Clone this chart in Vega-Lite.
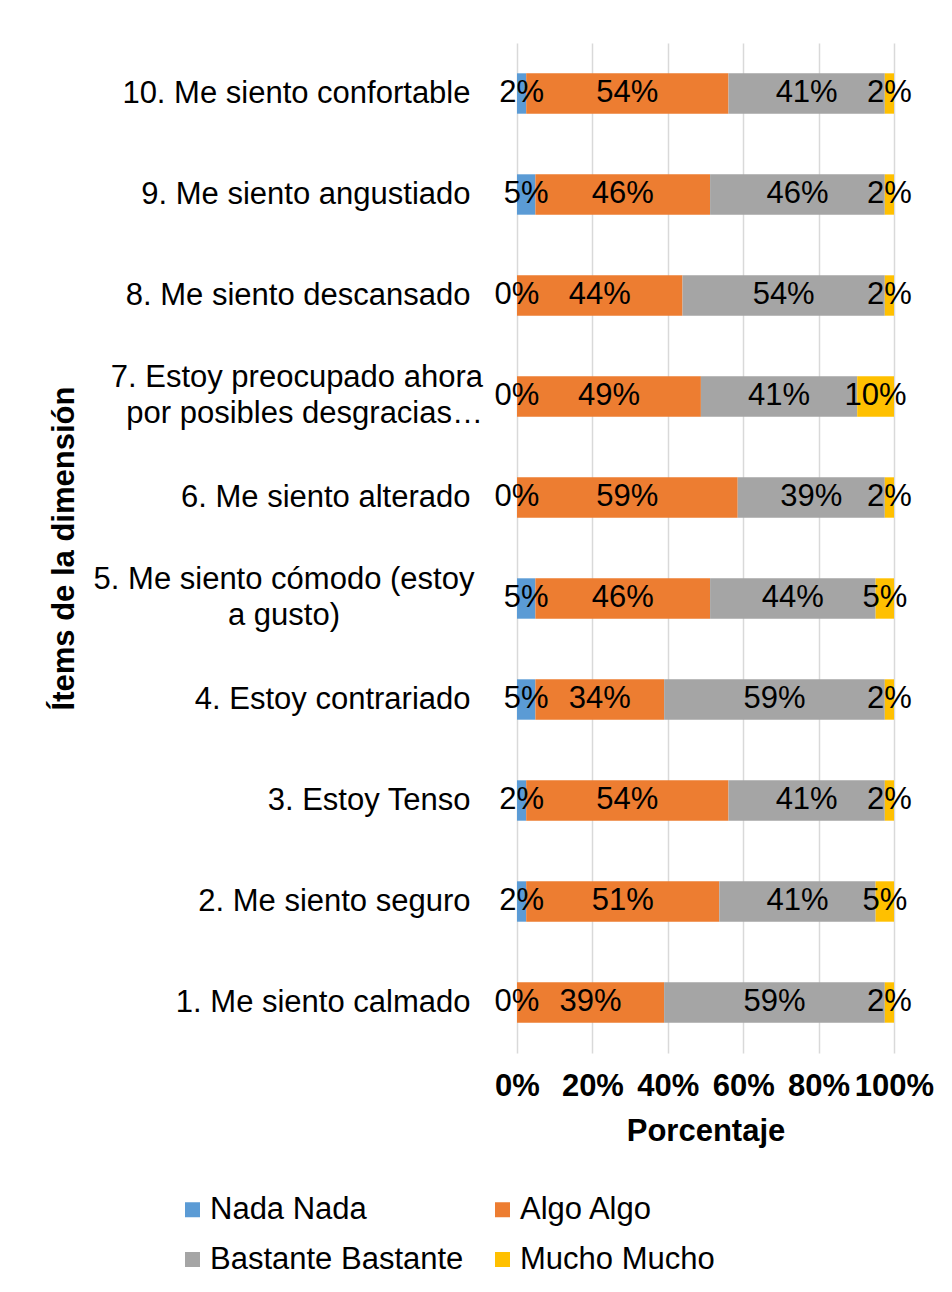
{
  "$schema": "https://vega.github.io/schema/vega-lite/v6.json",
  "width": 377,
  "height": 1010,
  "autosize": "none",
  "padding": {"left": 517, "top": 43, "right": 58, "bottom": 239},
  "background": "white",
  "config": {
    "font": "Liberation Sans",
    "view": {"stroke": null}
  },
  "data": {
    "values": [
      {"item": "10. Me siento confortable", "k": 1, "cat": "Nada Nada", "value": 0.0244},
      {"item": "10. Me siento confortable", "k": 2, "cat": "Algo Algo", "value": 0.5366},
      {"item": "10. Me siento confortable", "k": 3, "cat": "Bastante  Bastante", "value": 0.4146},
      {"item": "10. Me siento confortable", "k": 4, "cat": "Mucho Mucho", "value": 0.0244},
      {"item": "9. Me siento angustiado", "k": 1, "cat": "Nada Nada", "value": 0.0488},
      {"item": "9. Me siento angustiado", "k": 2, "cat": "Algo Algo", "value": 0.4634},
      {"item": "9. Me siento angustiado", "k": 3, "cat": "Bastante  Bastante", "value": 0.4634},
      {"item": "9. Me siento angustiado", "k": 4, "cat": "Mucho Mucho", "value": 0.0244},
      {"item": "8. Me siento descansado", "k": 1, "cat": "Nada Nada", "value": 0},
      {"item": "8. Me siento descansado", "k": 2, "cat": "Algo Algo", "value": 0.4390},
      {"item": "8. Me siento descansado", "k": 3, "cat": "Bastante  Bastante", "value": 0.5366},
      {"item": "8. Me siento descansado", "k": 4, "cat": "Mucho Mucho", "value": 0.0244},
      {"item": "7. Estoy preocupado ahora por posibles desgracias…", "k": 1, "cat": "Nada Nada", "value": 0},
      {"item": "7. Estoy preocupado ahora por posibles desgracias…", "k": 2, "cat": "Algo Algo", "value": 0.4878},
      {"item": "7. Estoy preocupado ahora por posibles desgracias…", "k": 3, "cat": "Bastante  Bastante", "value": 0.4146},
      {"item": "7. Estoy preocupado ahora por posibles desgracias…", "k": 4, "cat": "Mucho Mucho", "value": 0.0976},
      {"item": "6. Me siento alterado", "k": 1, "cat": "Nada Nada", "value": 0},
      {"item": "6. Me siento alterado", "k": 2, "cat": "Algo Algo", "value": 0.5854},
      {"item": "6. Me siento alterado", "k": 3, "cat": "Bastante  Bastante", "value": 0.3902},
      {"item": "6. Me siento alterado", "k": 4, "cat": "Mucho Mucho", "value": 0.0244},
      {"item": "5. Me siento cómodo (estoy a gusto)", "k": 1, "cat": "Nada Nada", "value": 0.0488},
      {"item": "5. Me siento cómodo (estoy a gusto)", "k": 2, "cat": "Algo Algo", "value": 0.4634},
      {"item": "5. Me siento cómodo (estoy a gusto)", "k": 3, "cat": "Bastante  Bastante", "value": 0.4390},
      {"item": "5. Me siento cómodo (estoy a gusto)", "k": 4, "cat": "Mucho Mucho", "value": 0.0488},
      {"item": "4. Estoy contrariado", "k": 1, "cat": "Nada Nada", "value": 0.0488},
      {"item": "4. Estoy contrariado", "k": 2, "cat": "Algo Algo", "value": 0.3415},
      {"item": "4. Estoy contrariado", "k": 3, "cat": "Bastante  Bastante", "value": 0.5854},
      {"item": "4. Estoy contrariado", "k": 4, "cat": "Mucho Mucho", "value": 0.0244},
      {"item": "3. Estoy Tenso", "k": 1, "cat": "Nada Nada", "value": 0.0244},
      {"item": "3. Estoy Tenso", "k": 2, "cat": "Algo Algo", "value": 0.5366},
      {"item": "3. Estoy Tenso", "k": 3, "cat": "Bastante  Bastante", "value": 0.4146},
      {"item": "3. Estoy Tenso", "k": 4, "cat": "Mucho Mucho", "value": 0.0244},
      {"item": "2. Me siento seguro", "k": 1, "cat": "Nada Nada", "value": 0.0244},
      {"item": "2. Me siento seguro", "k": 2, "cat": "Algo Algo", "value": 0.5122},
      {"item": "2. Me siento seguro", "k": 3, "cat": "Bastante  Bastante", "value": 0.4146},
      {"item": "2. Me siento seguro", "k": 4, "cat": "Mucho Mucho", "value": 0.0488},
      {"item": "1. Me siento calmado", "k": 1, "cat": "Nada Nada", "value": 0},
      {"item": "1. Me siento calmado", "k": 2, "cat": "Algo Algo", "value": 0.3902},
      {"item": "1. Me siento calmado", "k": 3, "cat": "Bastante  Bastante", "value": 0.5854},
      {"item": "1. Me siento calmado", "k": 4, "cat": "Mucho Mucho", "value": 0.0244}
    ]
  },
  "transform": [
    {"stack": "value", "groupby": ["item"], "sort": [{"field": "k", "order": "ascending"}], "offset": "normalize", "as": ["x0", "x1"]}
  ],
  "encoding": {
    "y": {
      "field": "item",
      "type": "nominal",
      "sort": [
        "10. Me siento confortable",
        "9. Me siento angustiado",
        "8. Me siento descansado",
        "7. Estoy preocupado ahora por posibles desgracias…",
        "6. Me siento alterado",
        "5. Me siento cómodo (estoy a gusto)",
        "4. Estoy contrariado",
        "3. Estoy Tenso",
        "2. Me siento seguro",
        "1. Me siento calmado"
      ],
      "scale": {"paddingInner": 0.6, "paddingOuter": 0.3},
      "axis": {
        "title": "Ítems de la dimensión",
        "titleFontSize": 31,
        "titleFontWeight": "bold",
        "titleColor": "black",
        "titleX": -444,
        "titleBaseline": "alphabetic",
        "labelFontSize": 31,
        "labelColor": "black",
        "labelPadding": 47,
        "labelLimit": 700,
        "ticks": false,
        "domain": false,
        "grid": false,
        "labelExpr": "(datum.value === '7. Estoy preocupado ahora por posibles desgracias…' || datum.value === '5. Me siento cómodo (estoy a gusto)') ? '' : datum.label"
      }
    }
  },
  "layer": [
    {
      "mark": {"type": "bar"},
      "encoding": {
        "x": {
          "field": "x0",
          "type": "quantitative",
          "scale": {"domain": [0, 1], "nice": false, "zero": true},
          "axis": {
            "title": "Porcentaje",
            "titleFontSize": 31,
            "titleFontWeight": "bold",
            "titleColor": "black",
            "titlePadding": 15,
            "format": ".0%",
            "values": [0, 0.2, 0.4, 0.6, 0.8, 1],
            "labelFontSize": 31,
            "labelFontWeight": "bold",
            "labelColor": "black",
            "labelPadding": 18,
            "labelOverlap": false,
            "labelFlush": false,
            "ticks": false,
            "domain": false,
            "grid": true,
            "gridColor": "#d9d9d9",
            "gridWidth": 1.5
          }
        },
        "x2": {"field": "x1"},
        "color": {
          "field": "cat",
          "type": "nominal",
          "scale": {
            "domain": ["Nada Nada", "Algo Algo", "Bastante  Bastante", "Mucho Mucho"],
            "range": ["#5B9BD5", "#ED7D31", "#A5A5A5", "#FFC000"]
          },
          "legend": {
            "title": null,
            "orient": "none",
            "direction": "horizontal",
            "legendX": -340,
            "legendY": 1151,
            "columns": 2,
            "columnPadding": 15,
            "rowPadding": 18,
            "symbolType": "square",
            "symbolSize": 225,
            "symbolStrokeWidth": 0,
            "labelFontSize": 31,
            "labelColor": "black",
            "labelOffset": 2,
            "labelLimit": 500
          }
        }
      }
    },
    {
      "transform": [
        {"fold": ["x0", "x1"], "as": ["edge", "pos"]},
        {"aggregate": [{"op": "mean", "field": "pos", "as": "mid"}], "groupby": ["item", "cat", "value"]}
      ],
      "mark": {"type": "text", "fontSize": 31, "color": "black", "baseline": "middle", "align": "center", "dy": -1},
      "encoding": {
        "x": {"field": "mid", "type": "quantitative"},
        "text": {"field": "value", "type": "quantitative", "format": ".0%"}
      }
    },
    {
      "transform": [
        {"filter": "datum.k === 1 && (datum.item === '7. Estoy preocupado ahora por posibles desgracias…' || datum.item === '5. Me siento cómodo (estoy a gusto)')"}
      ],
      "mark": {
        "type": "text",
        "fontSize": 31,
        "color": "black",
        "baseline": "middle",
        "lineHeight": 36,
        "dy": -19,
        "align": {"expr": "datum.item === '5. Me siento cómodo (estoy a gusto)' ? 'center' : 'right'"},
        "dx": {"expr": "datum.item === '5. Me siento cómodo (estoy a gusto)' ? -233 : -34"}
      },
      "encoding": {
        "x": {"datum": 0, "type": "quantitative"},
        "text": {"value": {"expr": "datum.item === '5. Me siento cómodo (estoy a gusto)' ? ['5. Me siento cómodo (estoy', 'a gusto)'] : ['7. Estoy preocupado ahora', 'por posibles desgracias…']"}}
      }
    }
  ]
}
